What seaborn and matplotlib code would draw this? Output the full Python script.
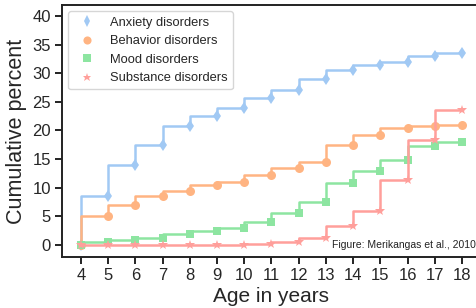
import pandas as pd
import matplotlib.pyplot as plt
import seaborn as sns
from matplotlib.lines import Line2D

# Cumulative lifetime prevalence by age
ages = list(range(4, 19))
anxiety = [0, 8.5, 13.9, 17.4, 20.7, 22.5, 24.0, 25.6, 27.0, 28.9, 30.5, 31.5, 32.0, 33.0, 33.5]
behavior = [0, 5.0, 6.9, 8.5, 9.5, 10.5, 11.0, 12.3, 13.5, 14.5, 17.5, 19.2, 20.4, 20.8, 21.0]
mood = [0, 0.5, 0.8, 1.3, 1.9, 2.5, 2.9, 4.0, 5.6, 7.5, 10.8, 13.0, 14.9, 17.2, 18.0]
substance = [0, 0, 0, 0, 0, 0, 0, 0.2, 0.5, 1.2, 3.4, 6.0, 11.4, 18.4, 23.6]

labels = ["Anxiety disorders", "Behavior disorders", "Mood disorders", "Substance disorders"]
markers = ["d", "o", "s", "*"]
marker_sizes = [6.5, 6.5, 6, 7]

sns.set_style("ticks")
plt.rcParams["font.family"] = ["Liberation Sans", "DejaVu Sans"]
pal = sns.color_palette("pastel")
colors = [pal[0], pal[1], pal[2], pal[3]]

fig = plt.figure(figsize=(4.77, 3.08), dpi=100)
ax = fig.add_axes([62 / 477, 1 - 257 / 308, 419 / 477, 252 / 308])

for vals, lab, m, ms, c in zip([anxiety, behavior, mood, substance], labels, markers, marker_sizes, colors):
    df = pd.DataFrame({"age": ages, "pct": vals})
    sns.lineplot(data=df, x="age", y="pct", ax=ax, color=c, marker=m, markersize=ms,
                 markeredgecolor=c, markeredgewidth=0, linewidth=1.8,
                 drawstyle="steps-pre", legend=False)

ax.set_xlim(3.3, 18.7)
ax.set_ylim(-2.1, 41.9)
ax.set_xticks(ages)
ax.set_yticks(range(0, 41, 5))
ax.tick_params(labelsize=12, length=5, width=1.4, color="#222222", pad=3)
for s in ax.spines.values():
    s.set_linewidth(1.4)
    s.set_color("#222222")
ax.set_xlabel("Age in years", fontsize=15, labelpad=3)
ax.set_ylabel("Cumulative percent", fontsize=15.5, labelpad=4)

handles = [Line2D([], [], ls="none", marker=m, markersize=ms * 0.9, color=c, markeredgewidth=0)
           for m, ms, c in zip(markers, marker_sizes, colors)]
ax.legend(handles, labels, loc="upper left", fontsize=9.3, frameon=True)

ax.text(0.988, 0.048, "Figure: Merikangas et al., 2010", transform=ax.transAxes,
        ha="right", va="center", fontsize=7.5, color="#222222")

plt.savefig("out.png", dpi=100)
plt.close()
print("Saved out.png")
